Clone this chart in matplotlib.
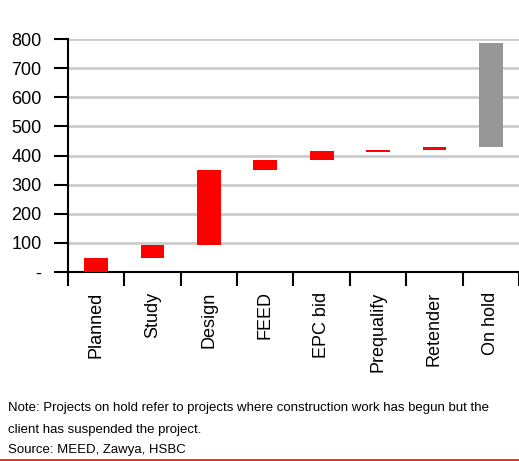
import matplotlib.pyplot as plt
from matplotlib import font_manager

# waterfall: bottom / top of each floating bar (USD bn)
stages = ["Planned", "Study", "Design", "FEED", "EPC bid", "Prequalify", "Retender", "On hold"]
bottoms = [0, 47, 92, 350, 385, 412, 418, 429]
tops = [47, 92, 350, 385, 415, 418, 429, 786]
colors = ["#ff0000"] * 7 + ["#969696"]
yticks = [0, 100, 200, 300, 400, 500, 600, 700, 800]
ylabels = ["-", "100", "200", "300", "400", "500", "600", "700", "800"]

names = {f.name for f in font_manager.fontManager.ttflist}
fam = "Liberation Sans Narrow" if "Liberation Sans Narrow" in names else "Liberation Sans"
plt.rcParams["font.family"] = [fam, "DejaVu Sans"]

fig = plt.figure(figsize=(5.19, 4.61), dpi=100)
ax = fig.add_axes([0.131, 0.41, 0.869, 0.505])

x = range(len(stages))
heights = [t - b for t, b in zip(tops, bottoms)]
ax.bar(x, heights, bottom=bottoms, width=0.42, color=colors, zorder=3)

ax.set_ylim(0, 800)
ax.set_xlim(-0.5, 7.41)
ax.set_yticks(yticks)
ax.set_yticklabels(ylabels, fontsize=13)
ax.yaxis.grid(True, color="#cccccc", lw=2)
ax.set_axisbelow(True)

# ticks at category boundaries, labels at centres
ax.set_xticks([i - 0.5 for i in range(len(stages) + 1)])
ax.set_xticklabels([])
ax.set_xticks(list(x), minor=True)
ax.set_xticklabels(stages, minor=True, rotation=90, fontsize=13, va="top")
ax.tick_params(axis="x", which="minor", length=0, pad=14)
ax.tick_params(axis="x", which="major", length=10, width=1.5, direction="out")
ax.tick_params(axis="y", length=10, width=1.5, direction="out", pad=9)

for s in ["top", "right"]:
    ax.spines[s].set_visible(False)
ax.spines["left"].set_linewidth(1.5)
ax.spines["bottom"].set_linewidth(1.5)

fig.text(0.015, 1 - 408 / 461, "Note: Projects on hold refer to projects where construction work has begun but the",
         fontsize=9.5, va="center")
fig.text(0.015, 1 - 430 / 461, "client has suspended the project.", fontsize=9.5, va="center")
fig.text(0.015, 1 - 450 / 461, "Source: MEED, Zawya, HSBC", fontsize=9.5, va="center")
fig.add_artist(plt.Line2D([0, 1], [1 - 459.5 / 461] * 2, color="#ff0000", lw=1.2,
                          transform=fig.transFigure))

fig.savefig("out.png", dpi=100)
